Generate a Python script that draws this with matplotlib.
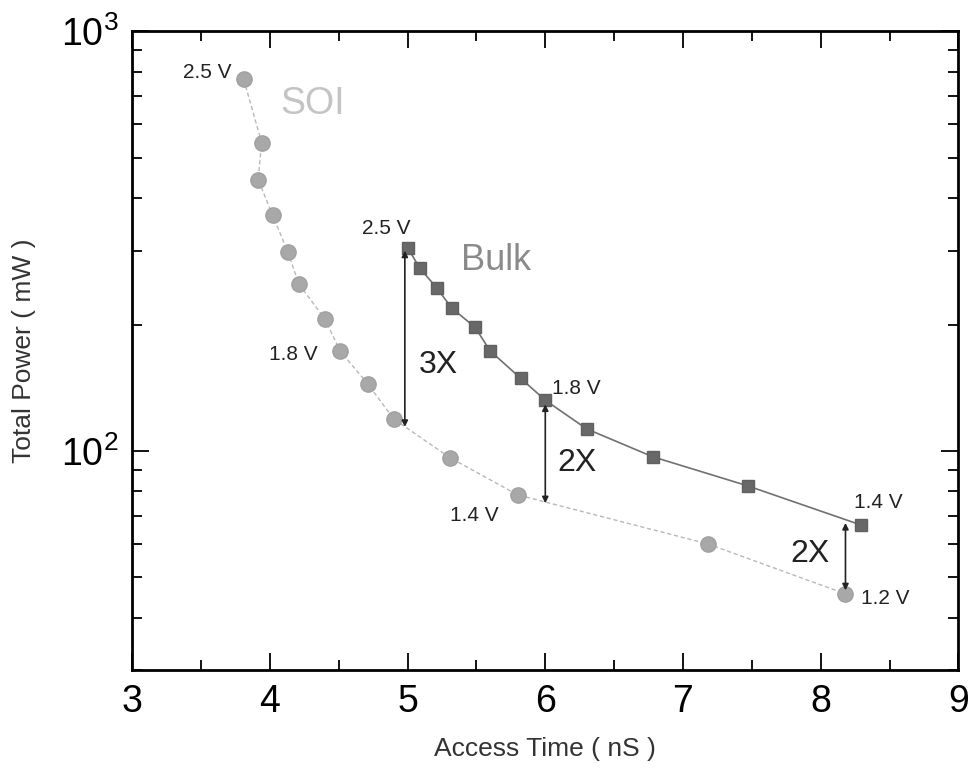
import matplotlib
matplotlib.use('Agg')
import matplotlib.pyplot as plt
from matplotlib.ticker import LogLocator, MultipleLocator

plt.rcParams['font.family'] = ['Liberation Sans', 'DejaVu Sans']

# SOI data (access time in nS, total power in mW)
soi_time = [3.81, 3.94, 3.915, 4.02, 4.13, 4.21, 4.40, 4.51, 4.71, 4.90, 5.31, 5.80, 7.18, 8.18]
soi_power = [768, 543, 443, 364, 298, 250, 206, 173, 144.5, 119, 96.2, 78.5, 60, 45.6]

# Bulk data
bulk_time = [5.00, 5.09, 5.21, 5.32, 5.49, 5.60, 5.82, 6.00, 6.30, 6.78, 7.47, 8.29]
bulk_power = [305, 272, 245, 219, 197, 173, 149, 132, 112.8, 96.8, 82.5, 66.6]

# voltage labels: (text, x, y)
volt_labels = [('2.5 V', 3.37, 797), ('1.8 V', 3.99, 170), ('1.4 V', 5.31, 70),
               ('1.2 V', 8.29, 44.4), ('2.5 V', 4.67, 338), ('1.8 V', 6.05, 141),
               ('1.4 V', 8.24, 75.1)]

# ratio arrows: (x, y_top, y_bottom, label, label_x, label_y)
ratio_arrows = [(4.98, 300, 114, '3X', 5.22, 160),
                (6.00, 129, 75, '2X', 6.23, 93.5),
                (8.18, 67.3, 46.5, '2X', 7.92, 56.8)]

fig = plt.figure(figsize=(9.72, 7.82), dpi=100)
ax = fig.add_axes([0.136, 0.143, 0.850, 0.817])

ax.plot(soi_time, soi_power, color='#b8b8b8', lw=1.0, ls=(0, (3, 2)), zorder=2)
ax.plot(soi_time, soi_power, 'o', color='#a8a8a8', ms=11, mec='#a0a0a0', zorder=3)
ax.plot(bulk_time, bulk_power, color='#707070', lw=1.2, zorder=2)
ax.plot(bulk_time, bulk_power, 's', color='#686868', ms=8.5, mec='#606060', zorder=3)

for x, y_top, y_bot, lab, lx, ly in ratio_arrows:
    ax.annotate('', xy=(x, y_top), xytext=(x, y_bot),
                arrowprops=dict(arrowstyle='<|-|>', color='#222222', lw=1.2,
                                mutation_scale=9, shrinkA=0, shrinkB=0))
    ax.text(lx, ly, lab, fontsize=23, ha='center', va='center', color='#222222')

for lab, x, y in volt_labels:
    ax.text(x, y, lab, fontsize=15, ha='left', va='center', color='#222222')

ax.text(4.31, 672, 'SOI', fontsize=27, color='#c4c4c4', ha='center', va='center')
ax.text(5.64, 284, 'Bulk', fontsize=26, color='#8a8a8a', ha='center', va='center')

ax.set_yscale('log')
ax.set_xlim(3, 9)
ax.set_ylim(30, 1000)
ax.xaxis.set_major_locator(MultipleLocator(1))
ax.xaxis.set_minor_locator(MultipleLocator(0.5))
ax.yaxis.set_major_locator(LogLocator(base=10, numticks=5))
ax.yaxis.set_minor_locator(LogLocator(base=10, subs=range(2, 10), numticks=20))

ax.tick_params(which='both', direction='in', top=True, right=True, width=1.3)
ax.tick_params(which='major', length=12, labelsize=27, pad=10)
ax.tick_params(which='minor', length=7)
for s in ax.spines.values():
    s.set_linewidth(2)

ax.set_xlabel('Access Time ( nS )', fontsize=19, labelpad=12, color='#333333')
ax.set_ylabel('Total Power ( mW )', fontsize=19, labelpad=18, color='#333333')

plt.savefig('out.png', dpi=100)
